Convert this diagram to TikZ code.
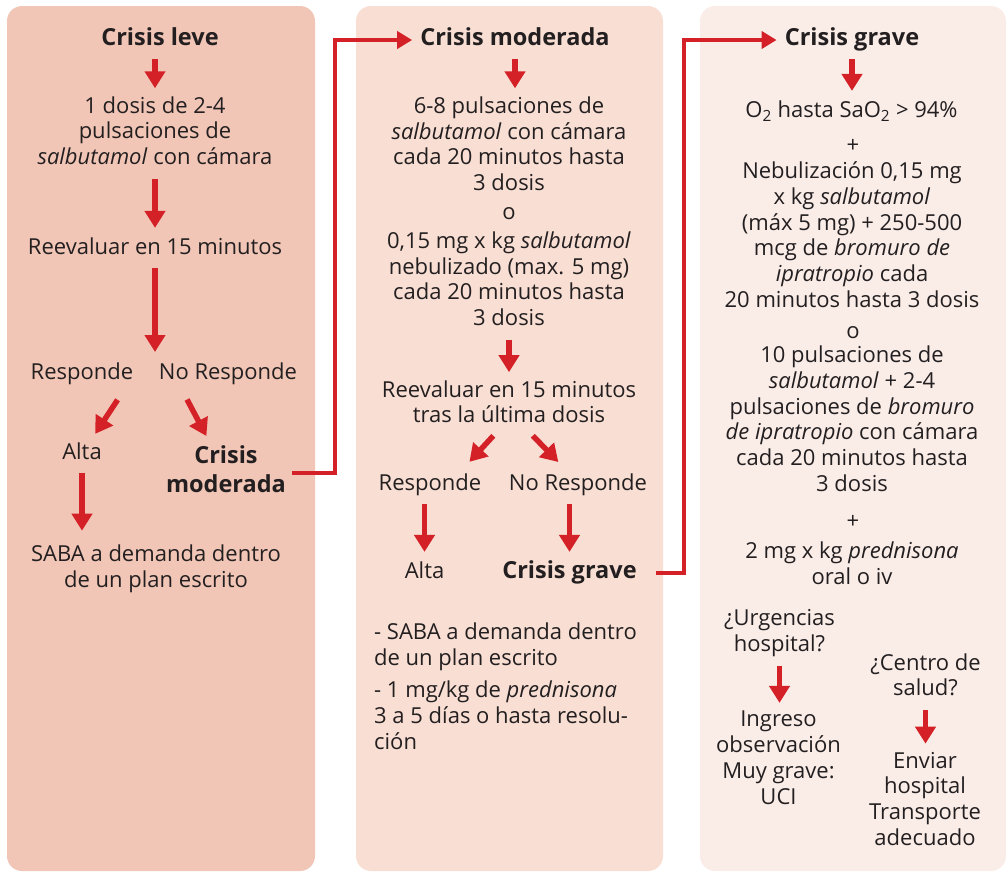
\documentclass[tikz,border=0pt]{standalone}
\usepackage{fontspec}
\setmainfont{Open Sans}
\usetikzlibrary{arrows.meta,calc}
\definecolor{ink}{RGB}{35,31,32}
\definecolor{alarm}{RGB}{212,32,39}
\definecolor{peach}{RGB}{241,198,182}
\definecolor{blush}{RGB}{248,222,211}
\definecolor{shell}{RGB}{250,237,232}
\tikzset{
  txt/.style={text=ink,align=center,inner sep=2pt,font=\fontsize{22}{25.8}\selectfont,
    execute at begin node=\strut,execute at end node=\strut},
  hd/.style={txt,font=\fontsize{23.5}{25.8}\selectfont\bfseries},
  arr/.style={alarm,line width=5.5pt,-{Triangle[width=20pt,length=17pt]},shorten <=4pt,shorten >=6pt},
  elbow/.style={alarm,line width=4.5pt,-{Triangle[width=17pt,length=15pt]},shorten >=6pt},
  panel/.style={rounded corners=15pt}
}

\begin{document}
\begin{tikzpicture}[x=1pt,y=-1pt]
  \useasboundingbox (0,0) rectangle (1008,871);
  % panels
  \fill[peach,panel] (7,6) rectangle (315,871);
  \fill[blush,panel] (356,6) rectangle (663,871);
  \fill[shell,panel] (700,6) rectangle (1006,871);
  \coordinate (gap1) at (335,0);
  \coordinate (gap2) at (684,0);

  % crisis leve
  \node[hd] (leve) at (160,40) {Crisis leve};
  \node[txt] (dosis1) at (155,134.5) {1 dosis de 2-4\\pulsaciones de\\\textit{salbutamol} con cámara};
  \node[txt] (reeval1) at (155,249) {Reevaluar en 15 minutos};
  \coordinate (fork1) at (155,358);
  \node[txt] (resp1) at (82,374) {Responde};
  \node[txt] (noresp1) at (228,374) {No Responde};
  \node[txt] (alta1) at (82,454) {Alta};
  \node[hd] (mod1) at (226,473) {Crisis\\[4pt]moderada};
  \node[txt] (saba1) at (156,570) {SABA a demanda dentro\\de un plan escrito};

  \draw[arr] (leve.south -| dosis1) -- (dosis1);
  \draw[arr] (dosis1) -- (reeval1);
  \draw[arr] (reeval1) -- (fork1);
  \draw[arr,shorten <=50pt] ([xshift=-10pt]fork1) -- (alta1);
  \draw[arr,shorten <=47pt,shorten >=8pt] ([xshift=10pt]fork1) -- (mod1);
  \draw[arr,shorten >=12pt] (alta1) -- (alta1 |- saba1.north);

  % crisis moderada
  \node[hd] (mod2) at (515,40) {Crisis moderada};
  \node[txt] (puls2) at (509,215) {6-8 pulsaciones de\\\textit{salbutamol} con cámara\\cada 20 minutos hasta\\3 dosis\\[3pt]o\\[3pt]0,15 mg x kg \textit{salbutamol}\\nebulizado (max. 5 mg)\\cada 20 minutos hasta\\3 dosis};
  \node[txt] (reeval2) at (509,405.5) {Reevaluar en 15 minutos\\tras la última dosis};
  \node[txt] (resp2) at (430,485) {Responde};
  \node[txt] (noresp2) at (578,485) {No Responde};
  \node[txt] (alta2) at (424.5,573) {Alta};
  \node[hd] (grave2) at (569.5,573) {Crisis grave};
  \node[txt,align=left,anchor=west] (notes2) at (372,690) {- SABA a demanda dentro\\de un plan escrito\\[6pt]- 1 mg/kg de \textit{prednisona}\\3 a 5 días o hasta resolu-\\ción};

  \draw[elbow,shorten <=4pt] (mod1.east) -- (mod1.east -| gap1) |- (mod2.west);
  \draw[arr] (mod2) -- (mod2 |- puls2.north);
  \draw[arr] (puls2) -- (reeval2);
  \draw[arr,shorten >=11pt] ([xshift=-13pt]reeval2.south) -- ([xshift=32pt]resp2.north);
  \draw[arr,shorten >=11pt] ([xshift=21pt]reeval2.south) -- ([xshift=-12pt]noresp2.north);
  \draw[arr] (alta2 |- resp2.south) -- (alta2);
  \draw[arr] (grave2 |- noresp2.south) -- (grave2);

  % crisis grave
  \node[hd] (grave3) at (852,40) {Crisis grave};
  \node[txt] (oxy3) at (851.5,112) {O\textsubscript{2} hasta SaO\textsubscript{2} > 94\%};
  \node[txt] (plus3a) at (853,147) {+};
  \node[txt] (neb3) at (852,238.5) {Nebulización 0,15 mg\\x kg \textit{salbutamol}\\(máx 5 mg) + 250-500\\mcg de \textit{bromuro de}\\\textit{ipratropio} cada\\20 minutos hasta 3 dosis};
  \node[txt] (o3) at (853,333) {o};
  \node[txt] (puls3) at (852,422.5) {10 pulsaciones de\\\textit{salbutamol} + 2-4\\pulsaciones de \textit{bromuro}\\\textit{de ipratropio} con cámara\\cada 20 minutos hasta\\3 dosis};
  \node[txt] (plus3b) at (853,523) {+};
  \node[txt] (pred3) at (852,567) {2 mg x kg \textit{prednisona}\\oral o iv};
  \node[txt] (urg3) at (779.5,634.5) {¿Urgencias\\hospital?};
  \node[txt] (cen3) at (925.5,678.5) {¿Centro de\\salud?};
  \node[txt] (ingr3) at (778.5,761.5) {Ingreso\\observación\\Muy grave:\\UCI};
  \node[txt] (env3) at (925,802.5) {Enviar\\hospital\\Transporte\\adecuado};

  \draw[elbow,shorten <=17pt] (grave2.east) -- (grave2.east -| gap2) |- (grave3.west);
  \draw[arr] (grave3) -- (grave3 |- oxy3.north);
  \draw[arr] (urg3) -- (urg3 |- ingr3.north);
  \draw[arr] (cen3) -- (cen3 |- env3.north);
\end{tikzpicture}
\end{document}
